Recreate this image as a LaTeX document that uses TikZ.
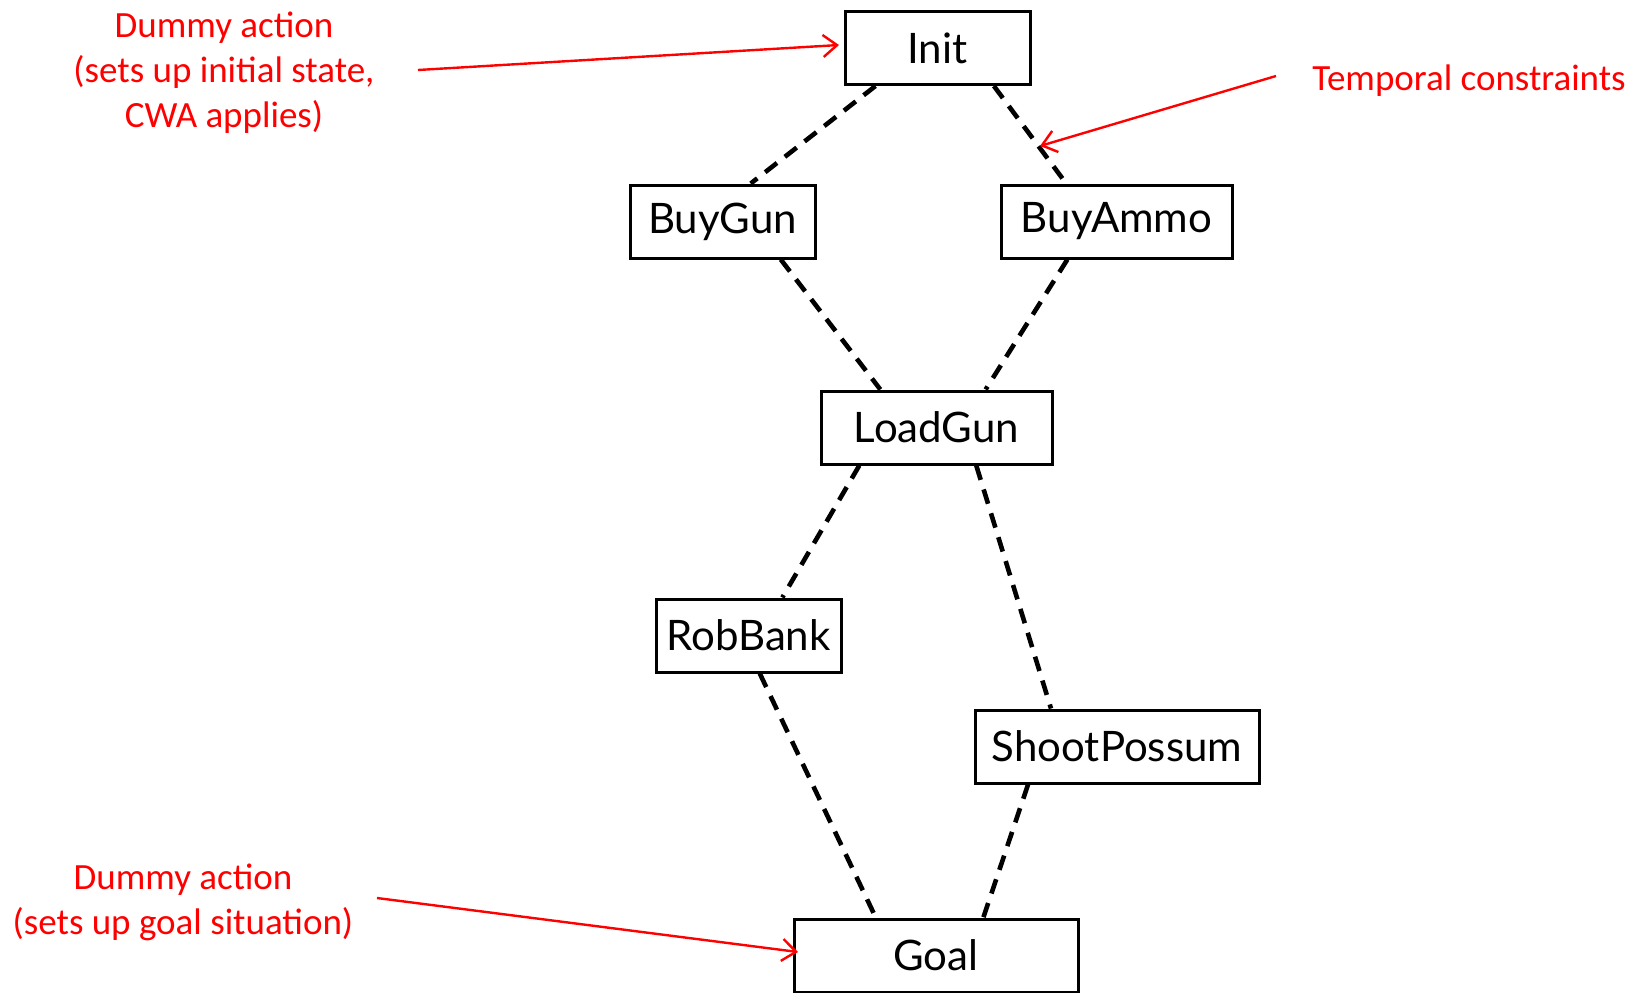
\documentclass[tikz,border=0pt]{standalone}
\usepackage{fontspec}
\setmainfont{Lato}
\newfontfamily\calib{Carlito}
\usetikzlibrary{calc,arrows.meta}
\tikzset{
  act/.style={draw=black, line width=1.5pt, fill=white, inner sep=0pt,
    minimum height=36.5pt, font=\fontsize{21}{25}\selectfont},
  dep/.style={draw=black, line width=2.3pt, dash pattern=on 7.5pt off 5pt},
  note/.style={text=red, align=center, font=\calib\fontsize{18.5}{22.5}\selectfont},
  ptr/.style={draw=red, line width=1.2pt, -{Straight Barb[length=7pt,width=11pt,line width=1.2pt]}}
}
\begin{document}
\begin{tikzpicture}[x=0.5pt,y=-0.5pt]
\useasboundingbox (0,0) rectangle (1639,992);
\node[act, minimum width=92.5pt] (init) at (937.5,48) {Init};
\node[act, minimum width=92.5pt] (buygun) at (722.5,221.5) {BuyGun};
\node[act, minimum width=115.5pt] (buyammo) at (1116.5,221.5) {BuyAmmo};
\node[act, minimum width=115.5pt] (loadgun) at (936.5,427.5) {LoadGun};
\node[act, minimum width=92.5pt] (robbank) at (748.5,635.5) {RobBank};
\node[act, minimum width=142pt] (shoot) at (1117,746.5) {ShootPossum};
\node[act, minimum width=142pt] (goal) at (936,955.5) {Goal};

\draw[dep] ($(init.south west)!0.17!(init.south east)$) -- ($(buygun.north west)!0.65!(buygun.north east)$);
\draw[dep] ($(init.south west)!0.80!(init.south east)$) -- ($(buyammo.north west)!0.285!(buyammo.north east)$);
\draw[dep] ($(buygun.south west)!0.81!(buygun.south east)$) -- ($(loadgun.north west)!0.26!(loadgun.north east)$);
\draw[dep] ($(buyammo.south west)!0.29!(buyammo.south east)$) -- ($(loadgun.north west)!0.71!(loadgun.north east)$);
\draw[dep] ($(loadgun.south west)!0.17!(loadgun.south east)$) -- ($(robbank.north west)!0.68!(robbank.north east)$);
\draw[dep] ($(loadgun.south west)!0.67!(loadgun.south east)$) -- ($(shoot.north west)!0.27!(shoot.north east)$);
\draw[dep] ($(robbank.south west)!0.56!(robbank.south east)$) -- ($(goal.north west)!0.29!(goal.north east)$);
\draw[dep] ($(shoot.south west)!0.19!(shoot.south east)$) -- ($(goal.north west)!0.665!(goal.north east)$);

\node[note] (ninit) at (224,73) {Dummy action\\(sets up initial state,\\CWA applies)};
\node[note] (ntemp) at (1469,81) {Temporal constraints};
\node[note] (ngoal) at (183,902) {Dummy action\\(sets up goal situation)};

\coordinate (ainit) at (418,70);
\coordinate (atemp) at (1276,76);
\coordinate (agoal) at (377,898);
\coordinate (tinit) at (839,45);
\coordinate (ttemp) at (1040,146);
\coordinate (tgoal) at (798,952);
\draw[ptr] (ainit) -- (tinit);
\draw[ptr] (atemp) -- (ttemp);
\draw[ptr] (agoal) -- (tgoal);
\end{tikzpicture}
\end{document}
